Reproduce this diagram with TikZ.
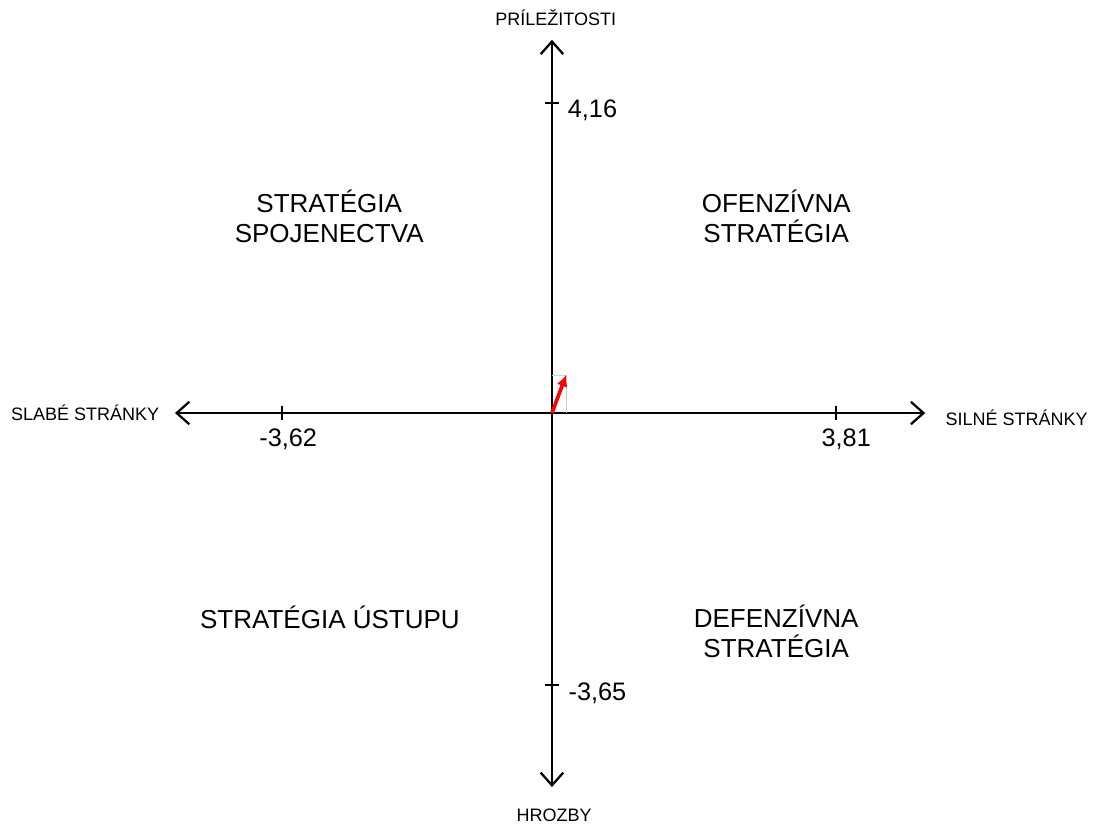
\documentclass[tikz,border=0pt]{standalone}
\usepackage{fontspec}
\setmainfont{Liberation Sans}
\usepackage{xcolor}
\usetikzlibrary{arrows.meta}
\definecolor{AxisBlack}{HTML}{000000}
\definecolor{VecRed}{HTML}{FF0000}
\definecolor{GuideGray}{HTML}{D0D0D0}

\begin{document}
\begin{tikzpicture}[
  x=1.8625cm, y=1.8625cm,
  axis/.style={line width=1.6pt, draw=AxisBlack,
               {Straight Barb[length=9pt,width=16pt,line width=1.6pt]}-{Straight Barb[length=9pt,width=16pt,line width=1.6pt]}},
  tick/.style={line width=1.6pt, draw=AxisBlack},
  guide/.style={line width=0.6pt, draw=GuideGray},
  vec/.style={line width=2.6pt, draw=VecRed, -{Latex[length=8pt,width=8pt]}},
  axlbl/.style={font=\fontsize{12.8}{15}\selectfont, inner sep=0pt},
  ticklbl/.style={font=\fontsize{18}{21}\selectfont, inner sep=0pt},
  quad/.style={font=\fontsize{18.5}{21.3}\selectfont, align=center, inner sep=0pt},
]
\useasboundingbox (-7.409,-5.517) rectangle (7.289,5.544);

%% ─ Axis end points ─────────────────────────────────────────────────────────
\coordinate (O)  at ( 0.00,  0.00);
\coordinate (xL) at (-5.06,  0.00);
\coordinate (xR) at ( 5.01,  0.00);
\coordinate (yB) at ( 0.00, -5.02);
\coordinate (yT) at ( 0.00,  5.01);

%% ─ Axes ────────────────────────────────────────────────────────────────────
\draw[axis] (xL) -- (xR);
\draw[axis] (yB) -- (yT);

%% ─ Ticks ───────────────────────────────────────────────────────────────────
\coordinate (tL1) at (-3.62, 0.09);  \coordinate (tL2) at (-3.62,-0.09);
\coordinate (tR1) at ( 3.81, 0.09);  \coordinate (tR2) at ( 3.81,-0.09);
\coordinate (tT1) at (-0.09, 4.16);  \coordinate (tT2) at ( 0.09, 4.16);
\coordinate (tB1) at (-0.09,-3.65);  \coordinate (tB2) at ( 0.09,-3.65);
\draw[tick] (tL1) -- (tL2);
\draw[tick] (tR1) -- (tR2);
\draw[tick] (tT1) -- (tT2);
\draw[tick] (tB1) -- (tB2);

%% ─ Tick labels ─────────────────────────────────────────────────────────────
\node[ticklbl]             (vL) at (-3.54,-0.35) {-3,62};
\node[ticklbl]             (vR) at ( 3.95,-0.35) {3,81};
\node[ticklbl,anchor=west] (vT) at ( 0.21, 4.07) {4,16};
\node[ticklbl,anchor=west] (vB) at ( 0.22,-3.76) {-3,65};

%% ─ Axis names ──────────────────────────────────────────────────────────────
\node[axlbl,anchor=east] (weak)  at (-5.27, 0.00) {SLABÉ STRÁNKY};
\node[axlbl,anchor=west] (stro)  at ( 5.28,-0.07) {SILNÉ STRÁNKY};
\node[axlbl]             (opp)   at ( 0.05, 5.30) {PRÍLEŽITOSTI};
\node[axlbl]             (thr)   at ( 0.03,-5.40) {HROZBY};

%% ─ Quadrants ───────────────────────────────────────────────────────────────
\node[quad] (qSO) at (-2.99, 2.64) {STRATÉGIA\\SPOJENECTVA};
\node[quad] (qOF) at ( 3.01, 2.64) {OFENZÍVNA\\STRATÉGIA};
\node[quad] (qUS) at (-2.98,-2.74) {STRATÉGIA ÚSTUPU};
\node[quad] (qDF) at ( 3.01,-2.93) {DEFENZÍVNA\\STRATÉGIA};

%% ─ Result vector ───────────────────────────────────────────────────────────
\coordinate (P)  at (0.19, 0.51);
\coordinate (Px) at (0.19, 0.00);
\coordinate (Py) at (0.00, 0.51);
\draw[guide] (Py) -- (P) -- (Px);
\draw[vec]   (O) -- (P);

\end{tikzpicture}
\end{document}
